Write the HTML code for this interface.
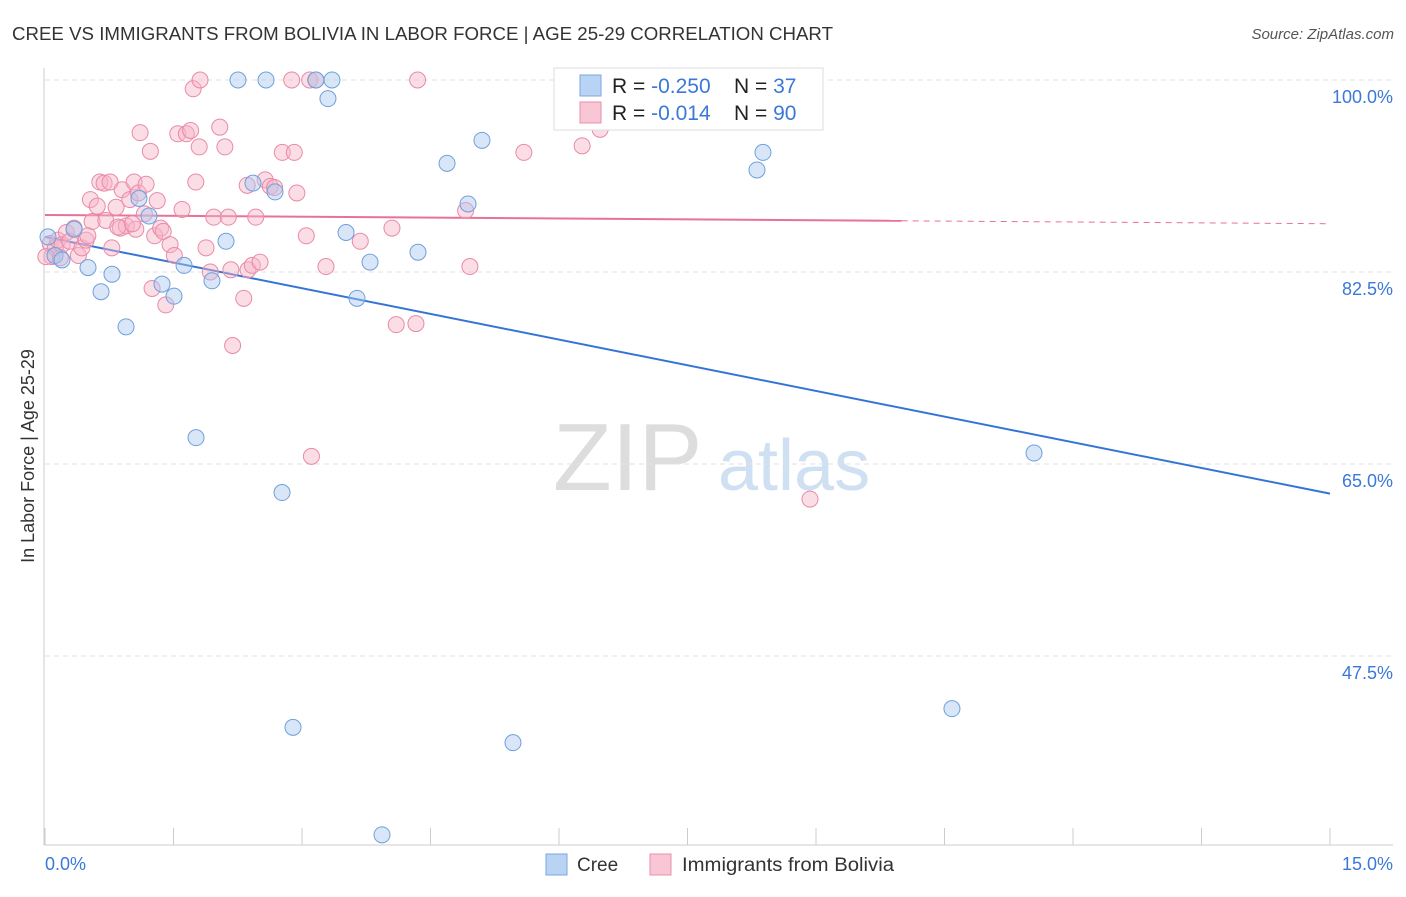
<!DOCTYPE html>
<html><head><meta charset="utf-8"><style>
body{margin:0;background:#fff;font-family:"Liberation Sans",sans-serif;}
svg text{font-family:"Liberation Sans",sans-serif;}
</style></head><body>
<svg id="chart" width="1406" height="892" viewBox="0 0 1406 892">
<text x="12" y="40" font-size="18" fill="#333" textLength="821" lengthAdjust="spacingAndGlyphs">CREE VS IMMIGRANTS FROM BOLIVIA IN LABOR FORCE | AGE 25-29 CORRELATION CHART</text>
<text x="1394" y="39" font-size="15" fill="#555" font-style="italic" text-anchor="end">Source: ZipAtlas.com</text>
<text transform="translate(34,456) rotate(-90)" font-size="18" fill="#333" text-anchor="middle">In Labor Force | Age 25-29</text>
<g><text x="553" y="490" font-size="96" font-family="Liberation Serif" fill="#ddd">ZIP</text><text x="718" y="490" font-size="72" fill="#cfe0f3">atlas</text></g>
<g id="grid"></g><g id="axes"></g><g id="lines"></g><g id="pts"></g>
<g>
<rect x="554" y="68" width="269" height="62" fill="#fff" stroke="#ddd"/>
<rect x="580" y="75" width="21" height="21" fill="#b9d3f4" stroke="#7aa7e0"/>
<rect x="580" y="102" width="21" height="21" fill="#f9c6d6" stroke="#ea8fad"/>
<text x="612" y="93" font-size="21" fill="#222">R = <tspan fill="#3b78d8">-0.250</tspan></text>
<text x="734" y="93" font-size="21" fill="#222">N = <tspan fill="#3b78d8"> 37</tspan></text>
<text x="612" y="120" font-size="21" fill="#222">R = <tspan fill="#3b78d8"> -0.014</tspan></text>
<text x="734" y="120" font-size="21" fill="#222">N = <tspan fill="#3b78d8">90</tspan></text>
</g>
<g>
<rect x="546" y="854" width="21" height="21" fill="#b9d3f4" stroke="#7aa7e0"/>
<text x="577" y="871" font-size="19" fill="#333">Cree</text>
<rect x="650" y="854" width="21" height="21" fill="#f9c6d6" stroke="#ea8fad"/>
<text x="682" y="871" font-size="19" fill="#333" textLength="212" lengthAdjust="spacingAndGlyphs">Immigrants from Bolivia</text>
</g>
</svg>
<script>
const yTicks=[100,82.5,65,47.5];
const yTickLabels=["100.0%","82.5%","65.0%","47.5%"];
const xTickLabels=["0.0%","15.0%"];
const creeX=[0.035,0.117,0.198,0.339,0.502,0.654,0.782,0.946,1.097,1.214,1.366,1.506,1.623,1.763,1.949,2.113,2.253,2.428,2.580,2.685,2.767,2.895,3.163,3.303,3.350,3.514,3.642,3.794,3.934,4.354,4.693,4.938,5.101,5.463,8.311,8.381,10.587,11.545];
const creeY=[85.7,84.0,83.6,86.4,82.9,80.7,82.3,77.5,89.2,87.6,81.4,80.3,83.1,67.4,81.7,85.3,100,90.6,100,89.8,62.4,41.0,100,98.3,100,86.1,80.1,83.4,31.2,84.3,92.4,88.7,94.5,39.6,91.8,93.4,42.7,66.0];
const bolX=[0.06,0.08,0.12,0.15,0.20,0.25,0.29,0.34,0.39,0.43,0.48,0.53,0.55,0.61,0.64,0.69,0.71,0.76,0.78,0.83,0.88,0.90,0.95,0.99,1.04,1.06,1.09,1.11,1.16,1.18,1.23,1.25,1.28,1.31,1.35,1.38,1.41,1.46,1.51,1.55,1.60,1.65,1.70,1.73,1.76,1.80,1.81,1.88,1.93,1.97,2.04,2.10,2.14,2.17,2.19,2.32,2.37,2.42,2.46,2.51,2.57,2.63,2.68,2.77,2.88,2.91,2.94,3.05,3.09,3.11,3.16,3.28,3.68,4.05,4.10,4.33,4.35,4.91,4.96,5.59,6.27,6.48,6.83,8.93,0.01,0.18,0.50,1.02,0.85,2.36];
const bolY=[85.1,83.9,84.7,85.4,85.0,86.1,85.3,86.5,84.0,84.7,85.4,89.1,87.1,88.5,90.7,90.6,87.2,90.7,84.7,88.4,86.5,90.0,86.7,89.1,90.7,86.4,89.7,95.2,87.8,90.5,93.5,81.0,85.8,89.0,86.5,86.2,79.5,85.0,84.0,95.1,88.2,95.1,95.4,99.2,90.7,93.9,100,84.7,82.5,87.5,95.7,93.9,87.5,82.7,75.8,80.1,82.7,83.1,87.5,83.4,90.9,90.3,90.2,93.4,100,93.4,89.7,85.8,100,65.7,100,83.0,85.3,86.5,77.7,77.8,100,88.1,83.0,93.4,94.0,95.5,100,61.8,83.9,83.8,85.8,86.9,86.6,90.4];
const creeLine=[85.7,62.3];
const bolLine=[87.7,86.9];
const X=v=>45+v/15*1285;
const Y=v=>80+(100-v)*192/17.5;
const NS="http://www.w3.org/2000/svg";
function mk(tag,attrs,parent){const e=document.createElementNS(NS,tag);for(const k in attrs)e.setAttribute(k,attrs[k]);document.getElementById(parent).appendChild(e);return e;}
yTicks.forEach((t,i)=>{
 const l=mk('line',{x1:45,x2:1393,y1:Y(t),y2:Y(t),stroke:'#e2e2e2','stroke-dasharray':'5,4'},'grid');
 
 
 const tx=mk('text',{x:1393,y:Y(t)+23,'font-size':18,fill:'#3b78d8','text-anchor':'end'},'grid');
 tx.textContent=yTickLabels[i];
 
 
});
const ya=mk('line',{x1:44,x2:44,y1:68,y2:845,stroke:'#ccc'},'axes');


const xa=mk('line',{x1:44,x2:1393,y1:845,y2:845,stroke:'#ccc'},'axes');


for(let i=0;i<=10;i++){const t=mk('line',{x1:X(i*1.5),x2:X(i*1.5),y1:828,y2:845,stroke:'#ccc'},'axes');
 
 }
[[0,'start',45],[15,'end',1393]].forEach((d,i)=>{const t=mk('text',{x:d[2],y:870,'font-size':18,fill:'#3b78d8','text-anchor':d[1]},'axes');t.textContent=xTickLabels[i];
 
 });
function pts(xs,ys,fill,stroke,name){xs.forEach((x,i)=>{const c=mk('circle',{cx:X(x),cy:Y(ys[i]),r:8,fill:fill,'fill-opacity':0.45,stroke:stroke,'stroke-width':1},'pts');
 
 });}
pts(bolX,bolY,'#f7b3c8','#e98aa8','bolivia-point');
pts(creeX,creeY,'#a9c8ef','#6fa0dc','cree-point');
const bl=mk('line',{x1:X(0),y1:Y(creeLine[0]),x2:X(15),y2:Y(creeLine[1]),stroke:'#3375d6','stroke-width':2},'lines');


const pe=bolLine[0]+(bolLine[1]-bolLine[0])*10/15;
const pl=mk('line',{x1:X(0),y1:Y(bolLine[0]),x2:X(10),y2:Y(pe),stroke:'#e8719a','stroke-width':2},'lines');


const pd=mk('line',{x1:X(10),y1:Y(pe),x2:X(15),y2:Y(bolLine[1]),stroke:'#e8719a','stroke-width':1,'stroke-dasharray':'6,5'},'lines');


</script>
</body></html>
